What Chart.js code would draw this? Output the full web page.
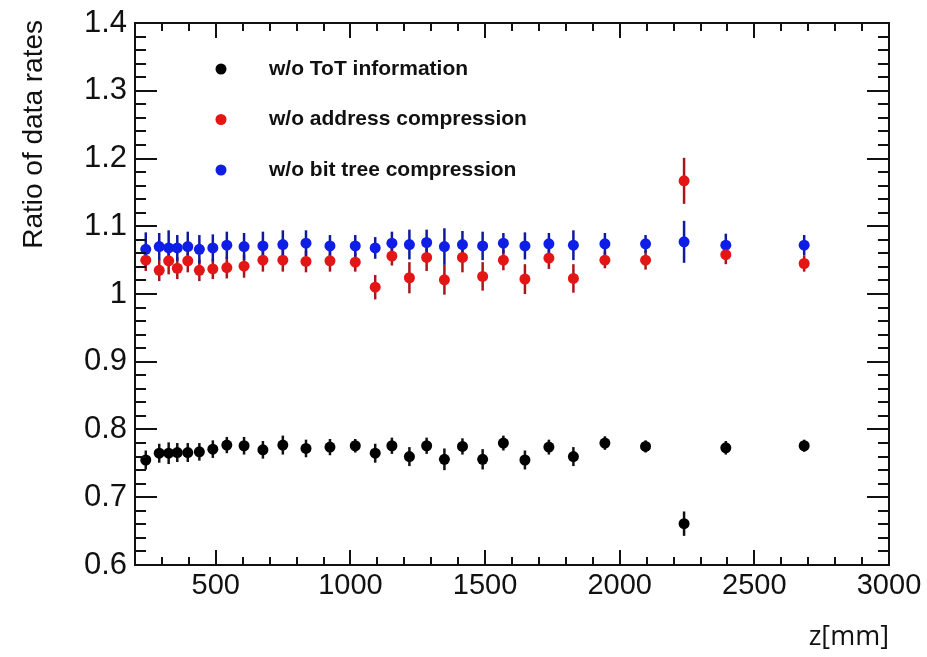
<!DOCTYPE html>
<html>
<head>
<meta charset="utf-8">
<title>Ratio of data rates vs z</title>
<script src="https://cdn.jsdelivr.net/npm/chart.js@4/dist/chart.umd.min.js"></script>
<style>
  html, body { margin: 0; padding: 0; background: #fff; }
  #plot { display: block; }
</style>
</head>
<body>
<canvas id="plot" width="927" height="657"></canvas>
<script>
// z position of each layer group [mm]
const zPositions = [240, 290, 325, 357, 396, 439, 489, 541, 605, 675, 749, 835, 924, 1018, 1092,
                    1154, 1219, 1283, 1349, 1416, 1491, 1568, 1648, 1737, 1828, 1945, 2096, 2239, 2394, 2685];

// ratio without ToT information
const ratioNoToT = [0.755, 0.765, 0.765, 0.766, 0.766, 0.767, 0.771, 0.777, 0.776, 0.770, 0.777, 0.772, 0.774, 0.776, 0.765,
                    0.776, 0.760, 0.776, 0.756, 0.775, 0.756, 0.780, 0.755, 0.774, 0.760, 0.780, 0.775, 0.661, 0.773, 0.776];
const errNoToT = [0.014, 0.014, 0.016, 0.014, 0.014, 0.013, 0.013, 0.012, 0.013, 0.013, 0.014, 0.013, 0.012, 0.010, 0.014,
                  0.012, 0.014, 0.012, 0.016, 0.012, 0.015, 0.011, 0.014, 0.011, 0.014, 0.010, 0.009, 0.018, 0.010, 0.009];

// ratio without address compression
const ratioNoAddr = [1.050, 1.035, 1.049, 1.038, 1.049, 1.035, 1.037, 1.039, 1.041, 1.050, 1.050, 1.048, 1.049, 1.047, 1.010,
                     1.056, 1.024, 1.054, 1.021, 1.054, 1.026, 1.050, 1.022, 1.053, 1.023, 1.050, 1.050, 1.167, 1.058, 1.045];
const errNoAddr = [0.016, 0.016, 0.020, 0.016, 0.017, 0.016, 0.015, 0.016, 0.017, 0.017, 0.017, 0.016, 0.016, 0.014, 0.018,
                   0.014, 0.023, 0.020, 0.022, 0.022, 0.021, 0.015, 0.022, 0.016, 0.021, 0.012, 0.014, 0.034, 0.014, 0.012];

// ratio without bit tree compression
const ratioNoTree = [1.066, 1.070, 1.068, 1.068, 1.070, 1.066, 1.068, 1.072, 1.070, 1.071, 1.073, 1.075, 1.071, 1.071, 1.068,
                     1.075, 1.073, 1.076, 1.070, 1.073, 1.071, 1.075, 1.071, 1.074, 1.072, 1.074, 1.074, 1.077, 1.072, 1.072];
const errNoTree = [0.025, 0.020, 0.026, 0.019, 0.022, 0.021, 0.020, 0.020, 0.020, 0.021, 0.021, 0.019, 0.016, 0.016, 0.016,
                   0.017, 0.022, 0.019, 0.027, 0.020, 0.021, 0.015, 0.020, 0.016, 0.022, 0.016, 0.013, 0.031, 0.017, 0.015];

const seriesLabels = ['w/o ToT information', 'w/o address compression', 'w/o bit tree compression'];

const xTickValues = [500, 1000, 1500, 2000, 2500, 3000];
const yTickValues = [0.6, 0.7, 0.8, 0.9, 1.0, 1.1, 1.2, 1.3, 1.4];

const FONT = "'Liberation Sans', Arial, Helvetica, sans-serif";

function toPoints(values) {
  return zPositions.map((z, i) => ({ x: z, y: values[i] }));
}

// ── Error bars, drawn under the markers ─────────────────────────────────────

const errorBars = {
  id: 'errorBars',
  beforeDatasetsDraw(chart) {
    const ctx = chart.ctx;
    const yScale = chart.scales.y;
    ctx.save();
    chart.data.datasets.forEach((ds, di) => {
      const meta = chart.getDatasetMeta(di);
      ctx.strokeStyle = ds.barColor;
      ctx.lineWidth = 2.5;
      meta.data.forEach((pt, i) => {
        const v = ds.data[i].y;
        const e = ds.errors[i];
        ctx.beginPath();
        ctx.moveTo(pt.x, yScale.getPixelForValue(v + e));
        ctx.lineTo(pt.x, yScale.getPixelForValue(v - e));
        ctx.stroke();
      });
    });
    ctx.restore();
  }
};

// ── Frame with inward ticks on all four sides ───────────────────────────────

const frameTicks = {
  id: 'frameTicks',
  afterDraw(chart) {
    const ctx = chart.ctx;
    const { left, right, top, bottom } = chart.chartArea;
    const xs = chart.scales.x, ys = chart.scales.y;
    ctx.save();
    ctx.strokeStyle = '#111';
    ctx.lineWidth = 2;
    ctx.strokeRect(left, top, right - left, bottom - top);

    ctx.beginPath();
    for (let v = 300; v < 3000; v += 100) {
      const px = Math.round(xs.getPixelForValue(v));
      const len = v % 500 === 0 ? 15 : 8;
      ctx.moveTo(px, bottom); ctx.lineTo(px, bottom - len);
      ctx.moveTo(px, top); ctx.lineTo(px, top + len);
    }
    for (let k = 31; k < 70; k++) {
      const v = k * 0.02;
      const py = Math.round(ys.getPixelForValue(v));
      const len = k % 5 === 0 ? 22 : 11;
      ctx.moveTo(left, py); ctx.lineTo(left + len, py);
      ctx.moveTo(right, py); ctx.lineTo(right - len, py);
    }
    ctx.stroke();

    // axis titles
    ctx.fillStyle = '#111';
    ctx.font = `28px ${FONT}`;
    ctx.save();
    ctx.translate(42, 20);
    ctx.rotate(-Math.PI / 2);
    ctx.textAlign = 'right';
    ctx.textBaseline = 'alphabetic';
    ctx.fillText('Ratio of data rates', 0, 0);
    ctx.restore();

    ctx.font = "27px 'Open Sans', sans-serif";
    ctx.textAlign = 'right';
    ctx.textBaseline = 'alphabetic';
    ctx.fillText('z[mm]', right, 645);
    ctx.restore();
  }
};

// ── Legend inside the frame, no box ─────────────────────────────────────────

const innerLegend = {
  id: 'innerLegend',
  afterDraw(chart) {
    const ctx = chart.ctx;
    const { left, top } = chart.chartArea;
    ctx.save();
    ctx.font = `bold 21px ${FONT}`;
    ctx.textBaseline = 'middle';
    chart.data.datasets.forEach((ds, i) => {
      const y = top + 46 + i * 50.5;
      ctx.fillStyle = ds.backgroundColor;
      ctx.beginPath();
      ctx.arc(left + 86, y, 5.5, 0, Math.PI * 2);
      ctx.fill();
      ctx.fillStyle = '#111';
      ctx.fillText(ds.label, left + 134, y);
    });
    ctx.restore();
  }
};

const chart = new Chart(document.getElementById('plot').getContext('2d'), {
  type: 'scatter',
  data: {
    datasets: [
      { label: seriesLabels[0], data: toPoints(ratioNoToT), errors: errNoToT,
        backgroundColor: '#000000', barColor: '#111111' },
      { label: seriesLabels[1], data: toPoints(ratioNoAddr), errors: errNoAddr,
        backgroundColor: '#e31515', barColor: '#a8161c' },
      { label: seriesLabels[2], data: toPoints(ratioNoTree), errors: errNoTree,
        backgroundColor: '#0f1ee6', barColor: '#101a9c' },
    ],
  },
  options: {
    responsive: false,
    animation: false,
    devicePixelRatio: 1,
    layout: { padding: { left: 0, top: 23, right: 38, bottom: 0 } },
    elements: { point: { radius: 5.5, borderWidth: 0, pointStyle: 'circle' } },
    plugins: { legend: { display: false }, tooltip: { enabled: false } },
    scales: {
      x: {
        type: 'linear',
        min: 200,
        max: 3000,
        grid: { display: false },
        border: { display: false },
        afterBuildTicks: s => { s.ticks = xTickValues.map(v => ({ value: v })); },
        afterFit: s => { s.height = 92; },
        ticks: {
          color: '#111',
          font: { family: FONT, size: 29 },
          padding: -4,
          maxRotation: 0,
          callback: v => String(v),
        },
      },
      y: {
        type: 'linear',
        min: 0.6,
        max: 1.4,
        grid: { display: false },
        border: { display: false },
        afterBuildTicks: s => { s.ticks = yTickValues.map(v => ({ value: v })); },
        afterFit: s => { s.width = 135; },
        ticks: {
          color: '#111',
          font: { family: FONT, size: 31 },
          padding: 0,
          callback: v => (Math.round(v * 10) / 10).toString(),
        },
      },
    },
  },
  plugins: [errorBars, frameTicks, innerLegend],
});
</script>
</body>
</html>
